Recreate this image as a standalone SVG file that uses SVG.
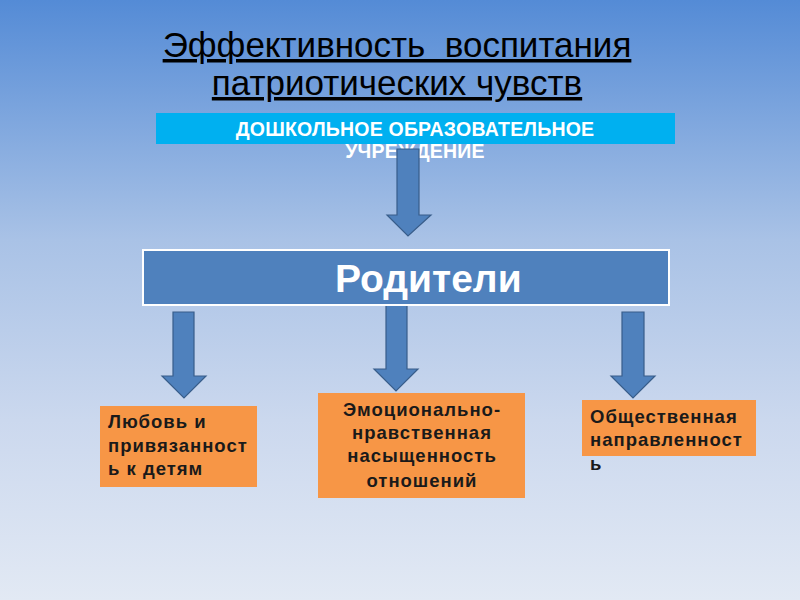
<svg xmlns="http://www.w3.org/2000/svg" width="800" height="600" viewBox="0 0 800 600">
<defs>
<linearGradient id="bg" x1="0" y1="0" x2="0" y2="1">
<stop offset="0" stop-color="#548bd6"/>
<stop offset="0.4" stop-color="#a9c2e6"/>
<stop offset="0.7" stop-color="#cbd8ee"/>
<stop offset="1" stop-color="#e2e9f4"/>
</linearGradient>
<style>
.title{font-family:"Liberation Sans",Arial,sans-serif;font-size:35px;fill:#000;text-decoration:underline;text-anchor:middle;white-space:pre}
.cyan{fill:#00b0f0}
.cyt{font-family:"Liberation Sans",Arial,sans-serif;font-size:19.5px;font-weight:bold;fill:#fff;text-anchor:middle;letter-spacing:0.2px}
.par{fill:#4f81bd;stroke:#fff;stroke-width:2}
.part{font-family:"Liberation Sans",Arial,sans-serif;font-size:39px;font-weight:bold;fill:#fff}
.arrow{fill:#4f81bd;stroke:#385d8a;stroke-width:1.2}
.box{fill:#f79646}
.bt{font-family:"Liberation Sans",Arial,sans-serif;font-size:18.5px;font-weight:bold;fill:#1a1a1a;letter-spacing:1px}
</style>
</defs>
<rect width="800" height="600" fill="url(#bg)"/>

<g id="title">
<text class="title" x="397" y="57" xml:space="preserve">Эффективность  воспитания</text>
<text class="title" x="397" y="95">патриотических чувств</text>
</g>

<g id="node-dou">
<rect class="cyan" x="156" y="113" width="519" height="31"/>
<text class="cyt" x="415" y="136">ДОШКОЛЬНОЕ ОБРАЗОВАТЕЛЬНОЕ</text>
<text class="cyt" x="415" y="158">УЧРЕЖДЕНИЕ</text>
</g>

<g id="connectors">
<path class="arrow" d="M397,149 H419 V215 H431 L408,236 L387,215 H397 Z"/>
<path class="arrow" d="M173,312 H194 V376 H206 L184,398 L162,376 H173 Z"/>
<path class="arrow" d="M386,305 H407 V369 H418 L396,391 L374,369 H386 Z"/>
<path class="arrow" d="M622,312 H644 V376 H655 L633,398 L611,376 H622 Z"/>
</g>

<g id="node-parents">
<rect class="par" x="143" y="250" width="526" height="55"/>
<text class="part" x="335" y="292">Родители</text>
</g>

<g id="node-love">
<rect class="box" x="100" y="406" width="157" height="81"/>
<text class="bt" x="108" y="428">Любовь и</text>
<text class="bt" x="108" y="452">привязанност</text>
<text class="bt" x="108" y="475">ь к детям</text>
</g>

<g id="node-emotion">
<rect class="box" x="318" y="393" width="207" height="105"/>
<text class="bt" x="422" y="416" text-anchor="middle">Эмоционально-</text>
<text class="bt" x="422" y="439" text-anchor="middle">нравственная</text>
<text class="bt" x="422" y="462" text-anchor="middle">насыщенность</text>
<text class="bt" x="422" y="487" text-anchor="middle">отношений</text>
</g>

<g id="node-social">
<rect class="box" x="582" y="400" width="174" height="56"/>
<text class="bt" x="590" y="423">Общественная</text>
<text class="bt" x="590" y="446">направленност</text>
<text class="bt" x="590" y="470">ь</text>
</g>
</svg>
